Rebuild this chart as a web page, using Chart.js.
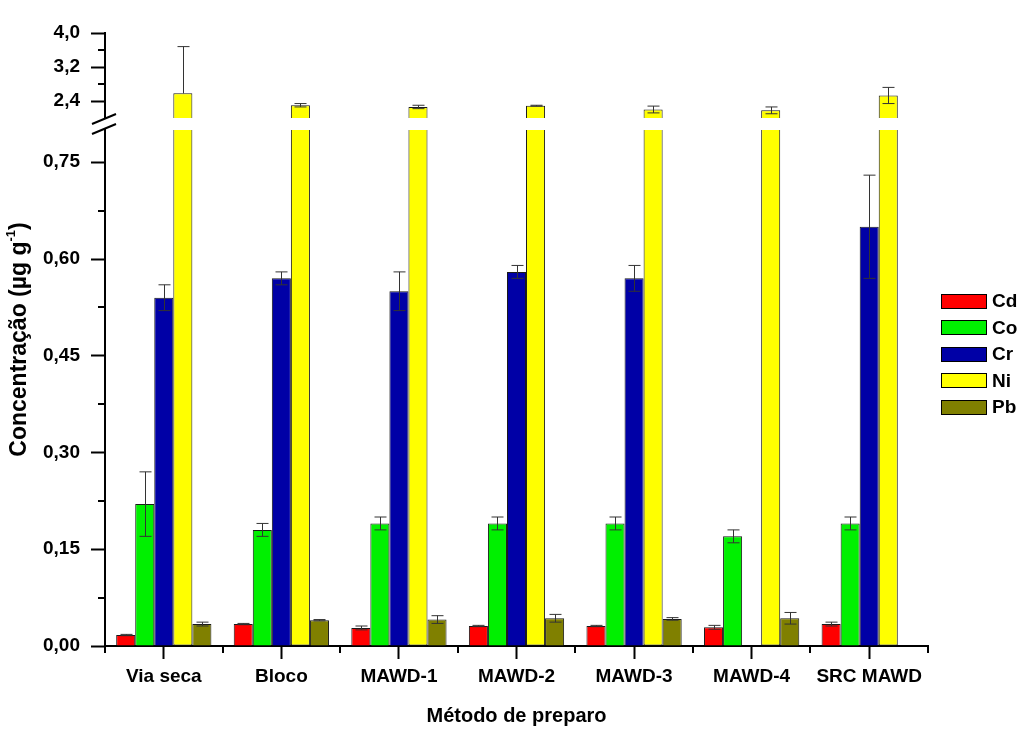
<!DOCTYPE html>
<html lang="pt">
<head>
<meta charset="utf-8">
<title>Concentração por método de preparo</title>
<script src="https://cdn.jsdelivr.net/npm/chart.js@4.4.1/dist/chart.umd.min.js"></script>
<style>
  html, body { margin: 0; padding: 0; background: #fff; }
  #caixa { width: 1024px; height: 738px; }
</style>
</head>
<body>
<div id="caixa"><canvas id="grafico"></canvas></div>
<script>
// Dados (µg g-1)
const categorias = ['Via seca', 'Bloco', 'MAWD-1', 'MAWD-2', 'MAWD-3', 'MAWD-4', 'SRC MAWD'];
const cd = [0.017, 0.034, 0.028, 0.031, 0.031, 0.029, 0.034];
const cdErro = [0.001, 0.001, 0.003, 0.001, 0.001, 0.003, 0.003];
const co = [0.22, 0.18, 0.19, 0.19, 0.19, 0.17, 0.19];
const coErro = [0.05, 0.01, 0.01, 0.01, 0.01, 0.01, 0.01];
const cr = [0.54, 0.57, 0.55, 0.58, 0.57, null, 0.65];
const crErro = [0.02, 0.01, 0.03, 0.01, 0.02, null, 0.08];
const ni = [2.58, 2.30, 2.26, 2.29, 2.20, 2.18, 2.53];
const niErro = [1.10, 0.04, 0.04, 0.01, 0.08, 0.08, 0.19];
const pb = [0.034, 0.040, 0.041, 0.043, 0.042, 0.043, null];
const pbErro = [0.003, 0.001, 0.006, 0.006, 0.002, 0.009, null];

// Eixo Y quebrado: parte de baixo e parte de cima
const limitesBaixo = [0, 0.8];
const limitesCima = [2.0, 4.0];
const ticksBaixo = [0, 0.15, 0.30, 0.45, 0.60, 0.75];
const ticksMenoresBaixo = [0.075, 0.225, 0.375, 0.525, 0.675];
const ticksCima = [2.4, 3.2, 4.0];
const ticksMenoresCima = [2.8, 3.6];

const FONTE = "'Liberation Sans', Arial, sans-serif";
Chart.defaults.font.family = FONTE;
Chart.defaults.color = '#000';

// Cria um dataset de barras
function serie(label, dados, erros, cor, eixo, pilha, extra) {
    return Object.assign({
        label: label,
        data: dados,
        erros: erros,
        backgroundColor: cor,
        borderColor: '#1a1a1a',
        borderWidth: 1,
        yAxisID: eixo,
        stack: pilha
    }, extra || {});
}

// Barras de erro
const barrasErro = {
    id: 'barrasErro',
    afterDatasetsDraw(chart) {
        const ctx = chart.ctx;
        ctx.save();
        ctx.strokeStyle = '#333';
        ctx.lineWidth = 1;
        chart.data.datasets.forEach((ds, i) => {
            if (!ds.erros) return;
            const meta = chart.getDatasetMeta(i);
            const escala = chart.scales[ds.yAxisID];
            meta.data.forEach((barra, j) => {
                const v = ds.data[j], e = ds.erros[j];
                if (v == null || e == null) return;
                const x = Math.round(barra.x) + 0.5;
                const yAlto = escala.getPixelForValue(v + e);
                const temBaixo = v - e >= escala.min;
                const yBaixo = temBaixo ? escala.getPixelForValue(v - e) : barra.y;
                ctx.beginPath();
                ctx.moveTo(x, yAlto);
                ctx.lineTo(x, yBaixo);
                ctx.moveTo(x - 6, yAlto);
                ctx.lineTo(x + 6, yAlto);
                if (temBaixo) {
                    ctx.moveTo(x - 6, yBaixo);
                    ctx.lineTo(x + 6, yBaixo);
                }
                ctx.stroke();
            });
        });
        ctx.restore();
    }
};

// Ticks menores, marca de quebra, título do eixo Y e legenda
const extras = {
    id: 'extras',
    afterDraw(chart, args, opts) {
        const ctx = chart.ctx;
        const area = chart.chartArea;
        const xEixo = area.left;
        ctx.save();
        ctx.strokeStyle = '#000';
        ctx.lineWidth = 2;

        // ticks menores do eixo Y
        ctx.beginPath();
        [['yBaixo', ticksMenoresBaixo], ['yCima', ticksMenoresCima]].forEach(([id, valores]) => {
            const escala = chart.scales[id];
            valores.forEach(v => {
                const y = Math.round(escala.getPixelForValue(v));
                ctx.moveTo(xEixo - 7, y);
                ctx.lineTo(xEixo, y);
            });
        });
        // ticks menores do eixo X (entre categorias)
        const ex = chart.scales.x;
        for (let i = 0; i <= categorias.length; i++) {
            const x = Math.round(ex.getPixelForValue(i - 0.5));
            ctx.moveTo(x, area.bottom);
            ctx.lineTo(x, area.bottom + 7);
        }
        ctx.stroke();

        // marca de quebra "//"
        const vao = chart.scales.yVao;
        const yMeio = (vao.top + vao.bottom) / 2;
        ctx.beginPath();
        [-5, 5].forEach(d => {
            ctx.moveTo(xEixo - 13, yMeio + d + 5);
            ctx.lineTo(xEixo + 11, yMeio + d - 5);
        });
        ctx.stroke();

        // título do eixo Y com expoente
        ctx.translate(opts.tituloX, (area.top + area.bottom) / 2);
        ctx.rotate(-Math.PI / 2);
        ctx.fillStyle = '#000';
        ctx.textBaseline = 'middle';
        ctx.textAlign = 'left';
        const fonteGrande = 'bold 23px ' + FONTE;
        const fonteSobre = 'bold 13px ' + FONTE;
        const partes = [['Concentração (µg g', fonteGrande, 0], ['-1', fonteSobre, -9], [')', fonteGrande, 0]];
        let largura = 0;
        partes.forEach(p => { ctx.font = p[1]; largura += ctx.measureText(p[0]).width; });
        let x = -largura / 2;
        partes.forEach(p => {
            ctx.font = p[1];
            ctx.fillText(p[0], x, p[2]);
            x += ctx.measureText(p[0]).width;
        });
        ctx.setTransform(1, 0, 0, 1, 0, 0);

        // legenda
        const itens = chart.data.datasets.filter(ds => !ds.semLegenda);
        ctx.font = 'bold 19px ' + FONTE;
        ctx.lineWidth = 1;
        ctx.strokeStyle = '#000';
        itens.forEach((ds, k) => {
            const yc = opts.legendaTopo + k * opts.legendaPasso;
            const xl = area.right + opts.legendaMargem;
            ctx.fillStyle = ds.backgroundColor;
            ctx.fillRect(xl, Math.round(yc - 7.5), 46, 15);
            ctx.strokeRect(xl + 0.5, Math.round(yc - 7.5) + 0.5, 45, 14);
            ctx.fillStyle = '#000';
            ctx.textAlign = 'left';
            ctx.textBaseline = 'middle';
            ctx.fillText(ds.label, xl + 51, yc + 1);
        });
        ctx.restore();
    }
};

const fonteTick = { size: 19, weight: 'bold', family: FONTE };
const larguraEixoY = s => { s.width = 105; };

function eixoY(limites, ticks, casas, peso, pesoPilha) {
    return {
        type: 'linear',
        position: 'left',
        stack: 'y',
        stackWeight: pesoPilha,
        weight: peso,
        stacked: false,
        min: limites[0],
        max: limites[1],
        afterBuildTicks: s => { s.ticks = ticks.map(v => ({ value: v })); },
        afterFit: larguraEixoY,
        grid: { display: true, drawOnChartArea: false, tickLength: 14, tickWidth: 2, tickColor: '#000' },
        border: { display: true, color: '#000', width: 2 },
        ticks: {
            font: fonteTick,
            color: '#000',
            padding: 11,
            autoSkip: false,
            callback: v => v.toFixed(casas).replace('.', ',')
        }
    };
}

new Chart(document.getElementById('grafico'), {
    type: 'bar',
    data: {
        labels: categorias,
        datasets: [
            serie('Cd', cd, cdErro, '#ff0000', 'yBaixo', 'cd'),
            serie('Co', co, coErro, '#00f000', 'yBaixo', 'co'),
            serie('Cr', cr, crErro, '#0000a6', 'yBaixo', 'cr'),
            serie('Ni', ni, niErro, '#ffff00', 'yCima', 'ni', { base: limitesCima[0], borderSkipped: 'bottom' }),
            serie('Ni', ni.map(v => Math.min(v, limitesBaixo[1])), null, '#ffff00', 'yBaixo', 'ni',
                { borderSkipped: 'top', semLegenda: true }),
            serie('Pb', pb, pbErro, '#808000', 'yBaixo', 'pb')
        ]
    },
    options: {
        responsive: true,
        maintainAspectRatio: false,
        animation: false,
        layout: { padding: { left: 0, right: 96, top: 33, bottom: 0 } },
        datasets: { bar: { barPercentage: 1, categoryPercentage: 0.81 } },
        plugins: {
            legend: { display: false },
            tooltip: { enabled: false },
            extras: { tituloX: 20, legendaTopo: 301, legendaPasso: 26.5, legendaMargem: 13 }
        },
        scales: {
            x: {
                type: 'category',
                afterFit: s => { s.height = 92; },
                grid: { display: true, offset: false, drawOnChartArea: false, tickLength: 13, tickWidth: 2, tickColor: '#000' },
                border: { display: true, color: '#000', width: 2 },
                ticks: { font: fonteTick, color: '#000', padding: 6, maxRotation: 0, autoSkip: false },
                title: {
                    display: true,
                    text: 'Método de preparo',
                    font: { size: 20, weight: 'bold', family: FONTE },
                    color: '#000',
                    padding: { top: 0, bottom: 10 }
                }
            },
            yCima: eixoY(limitesCima, ticksCima, 1, 3, 85),
            yVao: {
                type: 'linear',
                position: 'left',
                stack: 'y',
                stackWeight: 12,
                weight: 2,
                display: false,
                afterFit: larguraEixoY
            },
            yBaixo: eixoY(limitesBaixo, ticksBaixo, 2, 1, 516)
        }
    },
    plugins: [barrasErro, extras]
});
</script>
</body>
</html>
